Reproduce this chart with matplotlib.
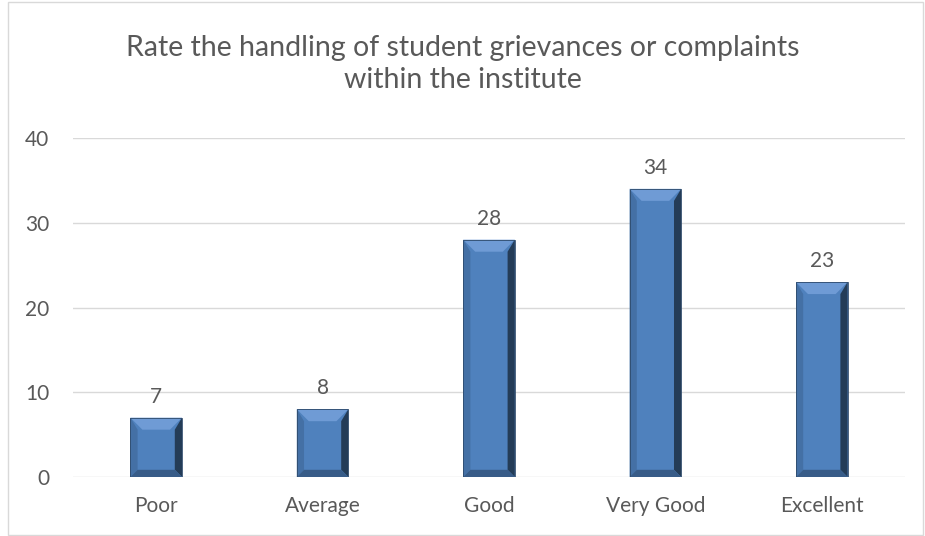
import matplotlib.pyplot as plt
from matplotlib.patches import Polygon, Rectangle

categories = ["Poor", "Average", "Good", "Very Good", "Excellent"]
values = [7, 8, 28, 34, 23]
title = "Rate the handling of student grievances or complaints\nwithin the institute"

plt.rcParams['font.family'] = ['Lato', 'DejaVu Sans']
text_col = "#595959"
base = "#4F81BD"

fig = plt.figure(figsize=(9.25, 5.36), dpi=100)
ax = fig.add_axes([73 / 925, (536 - 477) / 536, (905 - 73) / 925, (477 - 138) / 536])

# chart border
fig.patches.append(Rectangle((8 / 925, 0.002), 915 / 925, 0.994, transform=fig.transFigure,
                             fill=False, edgecolor="#D9D9D9", linewidth=1))

ax.set_xlim(-0.5, len(categories) - 0.5)
ax.set_ylim(0, 40)
ax.set_yticks([0, 10, 20, 30, 40])
ax.yaxis.grid(True, color="#D9D9D9", linewidth=1)
ax.set_axisbelow(True)
for s in ax.spines.values():
    s.set_visible(False)
ax.tick_params(length=0, colors=text_col, labelsize=15)
ax.tick_params(axis='y', pad=17)
ax.tick_params(axis='x', pad=14)
ax.set_xticks(range(len(categories)))
ax.set_xticklabels(categories)

# pixel -> data scale for the bevel
w = 0.31
px = 1 / ((905 - 73) / 5)
py = 1 / ((477 - 138) / 40)
tb = 12  # bevel depth in px
sb = 0.6  # side/bottom bevel relative to top

for i, v in enumerate(values):
    x0, x1 = i - w / 2, i + w / 2
    bx, by = tb * px, tb * py
    ax.add_patch(Rectangle((x0, 0), w, v, facecolor=base, edgecolor="none", zorder=2))
    # top, left, right, bottom bevel faces
    faces = [
        ([(x0, v), (x1, v), (x1 - bx, v - by), (x0 + bx, v - by)], "#6F9BD5"),
        ([(x0, 0), (x0, v), (x0 + bx * sb, v - by), (x0 + bx * sb, by * sb)], "#4470A5"),
        ([(x1, 0), (x1, v), (x1 - bx * sb, v - by), (x1 - bx * sb, by * sb)], "#243C57"),
        ([(x0, 0), (x1, 0), (x1 - bx * sb, by * sb), (x0 + bx * sb, by * sb)], "#385C88"),
    ]
    for pts, c in faces:
        ax.add_patch(Polygon(pts, closed=True, facecolor=c, edgecolor="none", zorder=3))
    ax.add_patch(Rectangle((x0, 0), w, v, facecolor="none", edgecolor="#2E4A6B",
                           linewidth=0.6, zorder=4))
    ax.annotate(str(v), (i, v), xytext=(0, 8), textcoords="offset points",
                ha="center", va="bottom", color=text_col, fontsize=15)

fig.text(0.5, 1 - 64 / 536, title, ha="center", va="center", color=text_col,
         fontsize=20.5, linespacing=1.28)

fig.savefig("out.png", dpi=100)
